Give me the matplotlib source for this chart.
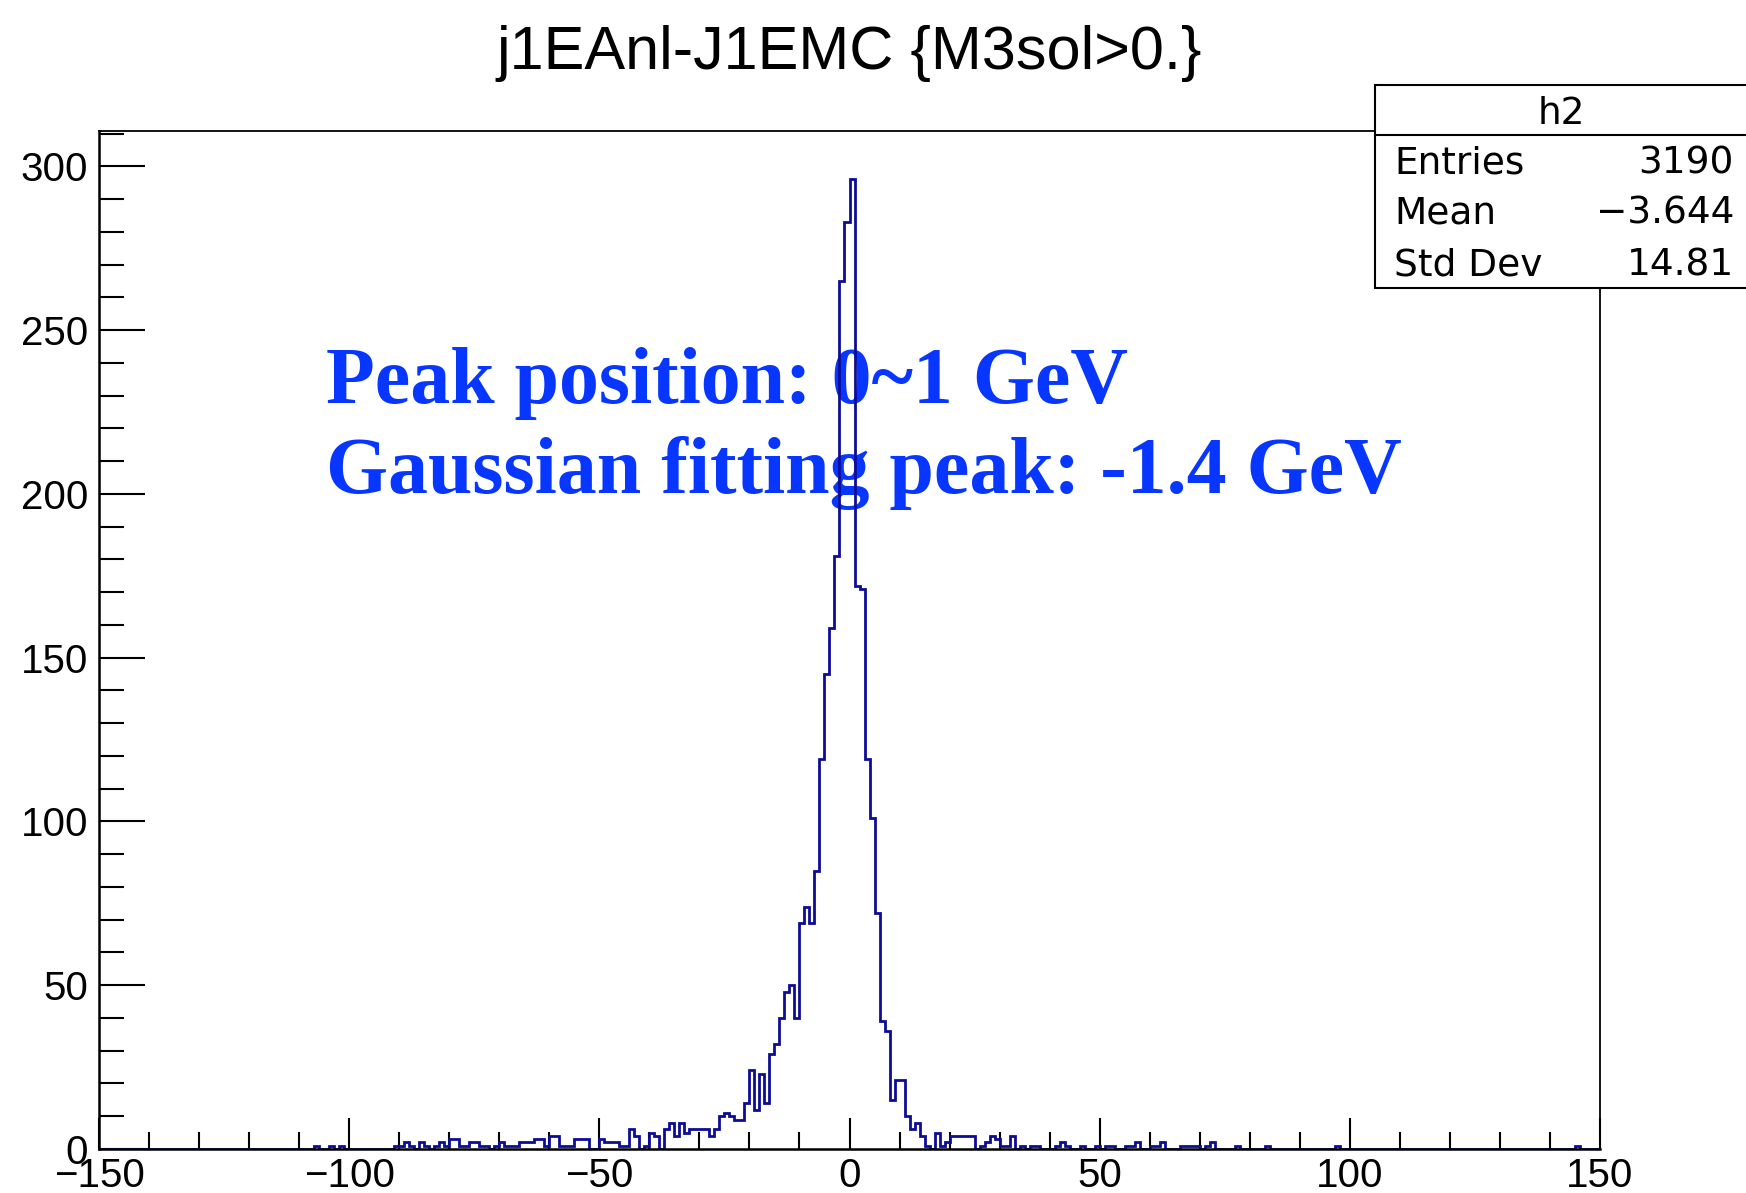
import matplotlib
matplotlib.use('Agg')
import matplotlib.pyplot as plt
import numpy as np
from matplotlib.patches import Rectangle
from matplotlib.lines import Line2D
from matplotlib.ticker import MultipleLocator

# ---------------- data ----------------
x_min, x_max, bin_width = -150, 150, 1

left_tail_bins = [-107, -104, -102, -91, -90, -89, -88, -86, -85, -83, -82, -81, -80, -79,
                  -78, -77, -76, -75, -74, -73, -71, -70, -69, -68, -67, -66, -65, -64,
                  -63, -62, -61, -60, -59, -58, -57, -56, -55, -54, -53]
left_tail_counts = [1, 1, 1, 1, 1, 2, 1, 2, 1, 1, 2, 1, 3, 3,
                    1, 1, 2, 2, 1, 1, 1, 2, 1, 1, 1, 2, 2, 2,
                    3, 3, 1, 4, 4, 1, 1, 1, 3, 3, 3]

core_first_bin = -52
core_counts = [0, 0, 3, 2, 2, 2, 1, 1, 6, 4, 0, 1, 5, 4, 0, 6, 8, 4, 8, 5,      # -52 .. -33
               6, 6, 6, 6, 4, 6, 10, 11, 10, 9, 9, 14, 24, 12, 23, 14, 29, 32,  # -32 .. -15
               40, 48, 50, 40, 69, 74, 69, 85, 119, 145, 159, 181, 265, 283,    # -14 .. -1
               296, 172, 171, 119, 101, 72, 39, 36, 15, 21, 21, 10, 6, 8, 4, 1, 0]  # 0 .. 16

right_tail_bins = [17, 18, 19, 20, 21, 22, 23, 24, 26, 27, 28, 29, 30, 31, 32, 34, 36, 37,
                   41, 42, 43, 46, 49, 51, 52, 55, 56, 57, 60, 61, 62, 66, 67, 68, 69,
                   71, 72, 77, 83, 97, 145]
right_tail_counts = [5, 1, 2, 4, 4, 4, 4, 4, 1, 2, 4, 3, 1, 1, 4, 1, 1, 1,
                     1, 2, 1, 1, 1, 1, 1, 1, 1, 2, 1, 1, 2, 1, 1, 1, 1,
                     1, 2, 1, 1, 1, 1]

title_text = "j1EAnl-J1EMC {M3sol>0.}"
stats_name = "h2"
stats_labels = ["Entries", "Mean", "Std Dev"]
stats_values = ["3190", "\u22123.644", "14.81"]
note_lines = ["Peak position: 0~1 GeV", "Gaussian fitting peak: -1.4 GeV"]

x_major = [-150, -100, -50, 0, 50, 100, 150]
y_major = [0, 50, 100, 150, 200, 250, 300]

# ---------------- build histogram ----------------
edges = np.arange(x_min, x_max + bin_width, bin_width)
counts = np.zeros(len(edges) - 1)
for b, c in zip(left_tail_bins, left_tail_counts):
    counts[int((b - x_min) / bin_width)] = c
for i, c in enumerate(core_counts):
    counts[int((core_first_bin + i - x_min) / bin_width)] = c
for b, c in zip(right_tail_bins, right_tail_counts):
    counts[int((b - x_min) / bin_width)] = c

# ---------------- figure ----------------
W, H = 1746, 1193
fig = plt.figure(figsize=(W / 100, H / 100), dpi=100)
fig.patch.set_facecolor('white')

def fx(px):
    return px / W

def fy(py):
    return 1 - py / H

ax = fig.add_axes([fx(99), fy(1149), fx(1600) - fx(99), fy(131) - fy(1149)])
ax.stairs(counts, edges, color='#0c0c98', linewidth=2.0, baseline=0, zorder=2)

ax.set_xlim(x_min, x_max)
ax.set_ylim(0, 1.05 * max(counts))

ax.set_xticks(x_major)
ax.set_xticklabels([str(v).replace('-', '\u2212') for v in x_major])
ax.set_yticks(y_major)
ax.set_yticklabels([str(v) for v in y_major])
ax.xaxis.set_minor_locator(MultipleLocator(10))
ax.yaxis.set_minor_locator(MultipleLocator(10))

lab_font = 'Liberation Sans'
box_font = 'DejaVu Sans'
ax.tick_params(axis='both', which='both', direction='in', top=False, right=False,
               width=1.5, color='black')
ax.tick_params(axis='y', which='major', length=33, pad=8, labelsize=29)
ax.tick_params(axis='y', which='minor', length=18)
ax.tick_params(axis='x', which='major', length=22, pad=5.5, labelsize=29)
ax.tick_params(axis='x', which='minor', length=12)
for lab in ax.get_xticklabels() + ax.get_yticklabels():
    lab.set_fontfamily(lab_font)

for side in ['left', 'bottom']:
    ax.spines[side].set_linewidth(1.8)
for side in ['top', 'right']:
    ax.spines[side].set_linewidth(1.3)

# blue annotation (under the histogram line)
note_color = '#0636ff'
ax.text(fx(326), fy(403), note_lines[0], transform=fig.transFigure, color=note_color,
        fontsize=57.5, fontweight='bold', family='Liberation Serif', va='baseline',
        ha='left', zorder=1.5)
ax.text(fx(326), fy(493), note_lines[1], transform=fig.transFigure, color=note_color,
        fontsize=57.5, fontweight='bold', family='Liberation Serif', va='baseline',
        ha='left', zorder=1.5)

# title
fig.text(fx(849), fy(69), title_text, ha='center', va='baseline', fontsize=44,
         family=lab_font, color='black')

# stats box
box_l, box_t, box_r, box_b = 1375, 85, 1752, 288
fig.add_artist(Rectangle((fx(box_l), fy(box_b)), fx(box_r) - fx(box_l), fy(box_t) - fy(box_b),
                         transform=fig.transFigure, facecolor='white', edgecolor='black',
                         linewidth=1.5, zorder=5))
fig.add_artist(Line2D([fx(box_l), fx(box_r)], [fy(135), fy(135)], transform=fig.transFigure,
                      color='black', linewidth=1.5, zorder=6))
fig.text(fx(1561), fy(114), stats_name, ha='center', va='center', fontsize=27,
         family=box_font, zorder=7)
for i, (lab, val) in enumerate(zip(stats_labels, stats_values)):
    yc = 163 + i * 51
    fig.text(fx(1394), fy(yc), lab, ha='left', va='center', fontsize=27, family=box_font, zorder=7)
    fig.text(fx(1734), fy(yc), val, ha='right', va='center', fontsize=27, family=box_font, zorder=7)

fig.savefig('out.png', dpi=100, facecolor='white')
